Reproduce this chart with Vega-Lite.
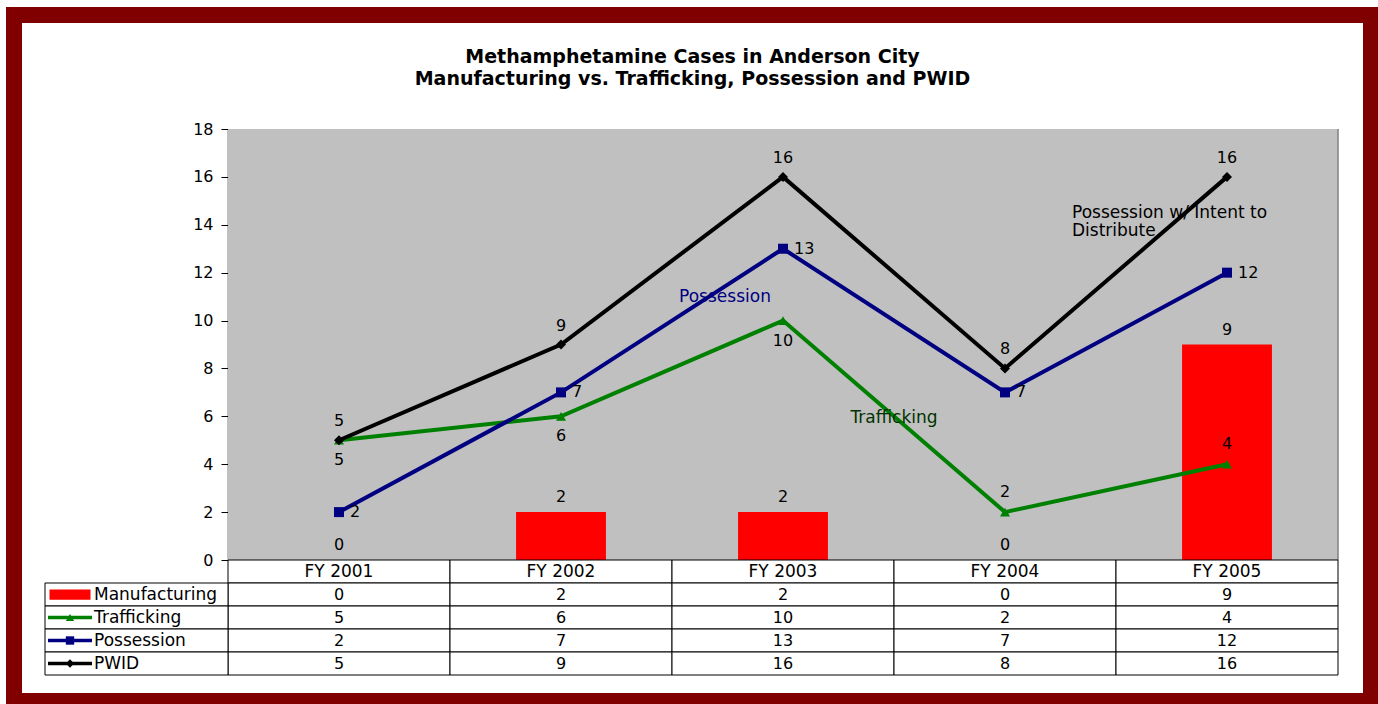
{
  "$schema": "https://vega.github.io/schema/vega-lite/v6.json",
  "width": 1357,
  "height": 686,
  "autosize": {"type": "none"},
  "padding": {"left": 14, "top": 15, "right": 7, "bottom": 3},
  "background": "white",
  "title": {
    "text": ["Methamphetamine Cases in Anderson City", "Manufacturing vs. Trafficking, Possession and PWID"],
    "font": "DejaVu Sans",
    "fontSize": 19,
    "fontWeight": "bold",
    "color": "black",
    "lineHeight": 22,
    "anchor": "middle",
    "frame": "group",
    "offset": -74
  },
  "datasets": {
    "cases": [
      {"FY": "FY 2001", "series": "Manufacturing", "value": 0},
      {"FY": "FY 2002", "series": "Manufacturing", "value": 2},
      {"FY": "FY 2003", "series": "Manufacturing", "value": 2},
      {"FY": "FY 2004", "series": "Manufacturing", "value": 0},
      {"FY": "FY 2005", "series": "Manufacturing", "value": 9},
      {"FY": "FY 2001", "series": "Trafficking", "value": 5},
      {"FY": "FY 2002", "series": "Trafficking", "value": 6},
      {"FY": "FY 2003", "series": "Trafficking", "value": 10},
      {"FY": "FY 2004", "series": "Trafficking", "value": 2},
      {"FY": "FY 2005", "series": "Trafficking", "value": 4},
      {"FY": "FY 2001", "series": "Possession", "value": 2},
      {"FY": "FY 2002", "series": "Possession", "value": 7},
      {"FY": "FY 2003", "series": "Possession", "value": 13},
      {"FY": "FY 2004", "series": "Possession", "value": 7},
      {"FY": "FY 2005", "series": "Possession", "value": 12},
      {"FY": "FY 2001", "series": "PWID", "value": 5},
      {"FY": "FY 2002", "series": "PWID", "value": 9},
      {"FY": "FY 2003", "series": "PWID", "value": 16},
      {"FY": "FY 2004", "series": "PWID", "value": 8},
      {"FY": "FY 2005", "series": "PWID", "value": 16}
    ]
  },
  "data": {"name": "cases"},
  "resolve": {"scale": {"x": "independent", "y": "independent"}},
  "layer": [
    {
      "encoding": {
        "x": {"field": "FY", "type": "nominal", "axis": null,
              "scale": {"type": "band", "domain": ["FY 2001", "FY 2002", "FY 2003", "FY 2004", "FY 2005"], "range": [214, 1324], "paddingInner": 0, "paddingOuter": 0}},
        "y": {"field": "value", "type": "quantitative", "axis": {"title": null},
              "scale": {"domain": [0, 18], "range": [545, 114], "nice": false, "zero": false}}
      },
      "layer": [
        {
          "transform": [{"filter": {"field": "series", "equal": "Manufacturing"}}],
          "mark": {"type": "rect", "fill": "#C0C0C0"},
          "encoding": {"y": {"datum": 0, "type": "quantitative"}, "y2": {"datum": 18}}
        },
        {
          "transform": [{"filter": {"and": [{"field": "series", "equal": "Manufacturing"}, {"field": "FY", "equal": "FY 2005"}]}}],
          "mark": {"type": "rule", "color": "#808080", "strokeWidth": 1.5, "xOffset": 111},
          "encoding": {"y": {"datum": 0, "type": "quantitative"}, "y2": {"datum": 18}}
        },
        {
          "transform": [{"filter": {"field": "series", "equal": "Manufacturing"}}],
          "mark": {"type": "bar", "color": "#FF0000", "width": {"band": 0.405}}
        },
        {
          "transform": [{"filter": "datum.series !== 'Manufacturing'"}],
          "mark": {"type": "line", "strokeWidth": 4},
          "encoding": {
            "color": {"field": "series", "type": "nominal", "legend": null,
                      "scale": {"domain": ["Manufacturing", "Trafficking", "Possession", "PWID"], "range": ["#FF0000", "#008000", "#000080", "#000000"]}}
          }
        },
        {
          "transform": [{"filter": "datum.series !== 'Manufacturing'"}],
          "mark": {"type": "point", "filled": true, "opacity": 1, "size": 100},
          "encoding": {
            "color": {"field": "series", "type": "nominal", "legend": null},
            "shape": {"field": "series", "type": "nominal", "legend": null,
                      "scale": {"domain": ["Manufacturing", "Trafficking", "Possession", "PWID"], "range": ["square", "triangle-up", "square", "diamond"]}}
          }
        },
        {
          "transform": [{"filter": {"field": "series", "equal": "Manufacturing"}}],
          "mark": {"type": "text", "fontSize": 16, "baseline": "middle", "dy": -15},
          "encoding": {"text": {"field": "value", "type": "quantitative"}}
        },
        {
          "transform": [{"filter": {"field": "series", "equal": "PWID"}}],
          "mark": {"type": "text", "fontSize": 16, "baseline": "middle", "dy": -19},
          "encoding": {"text": {"field": "value", "type": "quantitative"}}
        },
        {
          "transform": [{"filter": {"field": "series", "equal": "Possession"}}],
          "mark": {"type": "text", "fontSize": 16, "baseline": "middle", "align": "left", "dx": 11},
          "encoding": {"text": {"field": "value", "type": "quantitative"}}
        },
        {
          "transform": [{"filter": {"and": [{"field": "series", "equal": "Trafficking"}, {"field": "FY", "oneOf": ["FY 2001", "FY 2002", "FY 2003"]}]}}],
          "mark": {"type": "text", "fontSize": 16, "baseline": "middle", "dy": 20},
          "encoding": {"text": {"field": "value", "type": "quantitative"}}
        },
        {
          "transform": [{"filter": {"and": [{"field": "series", "equal": "Trafficking"}, {"field": "FY", "oneOf": ["FY 2004", "FY 2005"]}]}}],
          "mark": {"type": "text", "fontSize": 16, "baseline": "middle", "dy": -20},
          "encoding": {"text": {"field": "value", "type": "quantitative"}}
        },
        {
          "transform": [{"filter": {"and": [{"field": "series", "equal": "Possession"}, {"field": "FY", "equal": "FY 2003"}]}}],
          "mark": {"type": "text", "color": "#000080", "fontSize": 17, "align": "center", "baseline": "middle", "dx": -58},
          "encoding": {"y": {"datum": 11, "type": "quantitative"}, "text": {"field": "series", "type": "nominal"}}
        },
        {
          "transform": [{"filter": {"and": [{"field": "series", "equal": "Trafficking"}, {"field": "FY", "equal": "FY 2004"}]}}],
          "mark": {"type": "text", "color": "#003300", "fontSize": 17, "align": "center", "baseline": "middle", "dx": -111, "dy": 2},
          "encoding": {"y": {"datum": 6, "type": "quantitative"}, "text": {"field": "series", "type": "nominal"}}
        },
        {
          "transform": [{"filter": {"and": [{"field": "series", "equal": "PWID"}, {"field": "FY", "equal": "FY 2005"}]}}],
          "mark": {"type": "text", "lineHeight": 18, "color": "black", "fontSize": 17, "align": "left", "baseline": "middle", "dx": -155, "dy": -12},
          "encoding": {"y": {"datum": 14, "type": "quantitative"}, "text": {"datum": ["Possession w/ Intent to", "Distribute"]}}
        }
      ]
    },
    {
      "encoding": {
        "x": {"field": "FY", "type": "nominal", "axis": null,
              "scale": {"type": "band", "domain": ["FY 2001", "FY 2002", "FY 2003", "FY 2004", "FY 2005"], "range": [214, 1324], "paddingInner": 0, "paddingOuter": 0}},
        "y": {"field": "series", "type": "nominal", "axis": null,
              "scale": {"type": "band", "domain": ["header", "Manufacturing", "Trafficking", "Possession", "PWID"], "range": [545, 660], "paddingInner": 0, "paddingOuter": 0}}
      },
      "layer": [
        {
          "transform": [{"filter": {"field": "series", "equal": "Manufacturing"}}],
          "mark": {"type": "rect", "fill": "white", "stroke": "black", "strokeWidth": 1},
          "encoding": {"y": {"datum": "header", "type": "nominal"}}
        },
        {
          "mark": {"type": "rect", "fill": "white", "stroke": "black", "strokeWidth": 1}
        },
        {
          "transform": [{"filter": {"field": "series", "equal": "Manufacturing"}}],
          "mark": {"type": "text", "fontSize": 17, "baseline": "middle"},
          "encoding": {"y": {"datum": "header", "type": "nominal"}, "text": {"field": "FY", "type": "nominal"}}
        },
        {
          "mark": {"type": "text", "fontSize": 16, "baseline": "middle"},
          "encoding": {"text": {"field": "value", "type": "quantitative"}}
        }
      ]
    },
    {
      "transform": [{"filter": {"field": "FY", "equal": "FY 2001"}}],
      "encoding": {
        "x": {"datum": "label", "type": "nominal", "axis": null,
              "scale": {"type": "band", "domain": ["label"], "range": [31, 214], "paddingInner": 0, "paddingOuter": 0}},
        "y": {"field": "series", "type": "nominal", "axis": null,
              "scale": {"type": "band", "domain": ["header", "Manufacturing", "Trafficking", "Possession", "PWID"], "range": [545, 660], "paddingInner": 0, "paddingOuter": 0}}
      },
      "layer": [
        {
          "mark": {"type": "rect", "fill": "white", "stroke": "black", "strokeWidth": 1}
        },
        {
          "mark": {"type": "text", "fontSize": 17, "baseline": "middle", "align": "left", "dx": -42.5},
          "encoding": {"text": {"field": "series", "type": "nominal"}}
        },
        {
          "transform": [{"filter": {"field": "series", "equal": "Manufacturing"}}],
          "mark": {"type": "point", "shape": "M-1,-0.25L1,-0.25L1,0.25L-1,0.25Z", "size": 1681, "filled": true, "opacity": 1, "color": "#FF0000", "xOffset": -66.5}
        },
        {
          "transform": [{"filter": "datum.series !== 'Manufacturing'"}],
          "mark": {"type": "point", "shape": "M-1,0L1,0", "size": 1936, "filled": false, "opacity": 1, "strokeWidth": 3.5, "xOffset": -66.5},
          "encoding": {"color": {"field": "series", "type": "nominal", "legend": null}}
        },
        {
          "transform": [{"filter": "datum.series !== 'Manufacturing'"}],
          "mark": {"type": "point", "filled": true, "opacity": 1, "size": 70, "xOffset": -66.5},
          "encoding": {
            "color": {"field": "series", "type": "nominal", "legend": null},
            "shape": {"field": "series", "type": "nominal", "legend": null}
          }
        }
      ]
    }
  ],
  "config": {
    "view": {"fill": "white", "stroke": "#800000", "strokeWidth": 16},
    "font": "DejaVu Sans",
    "text": {"font": "DejaVu Sans", "fontSize": 16, "color": "black"},
    "axisY": {"offset": -214, "grid": false, "domainColor": "black", "domainWidth": 1.5, "tickColor": "black", "tickSize": 7, "labelPadding": 8, "labelFontSize": 16, "labelColor": "black", "labelFont": "DejaVu Sans", "tickCount": 9}
  }
}
